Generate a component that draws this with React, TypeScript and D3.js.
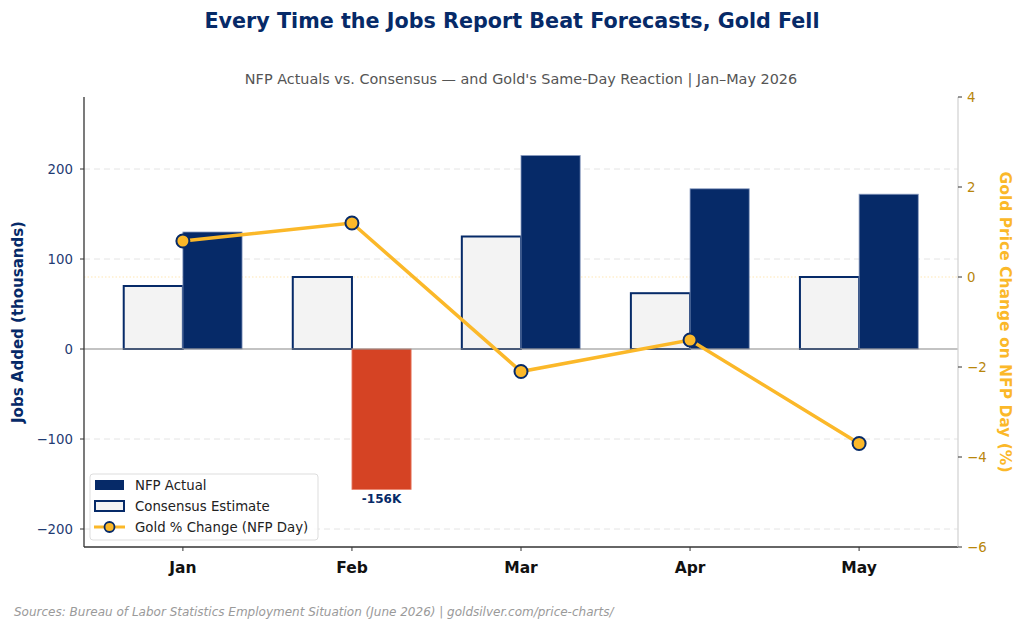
import React from "react";
import * as d3 from "d3";

const months = ["Jan", "Feb", "Mar", "Apr", "May"];
const nfpActual = [130, -156, 215, 178, 172];
const consensus = [70, 80, 125, 62, 80];
const goldChange = [0.8, 1.2, -2.1, -1.4, -3.7];
const leftTicks = [-200, -100, 0, 100, 200];
const rightTicks = [-6, -4, -2, 0, 2, 4];

const NAVY = "#062a68";
const GOLD = "#fbb829";
const RED = "#d54324";
const FONT = "DejaVu Sans, sans-serif";

const margin = { left: 84, right: 66, top: 97, bottom: 84 };
const W = 1024;
const H = 631;

const App = () => {
  const innerW = W - margin.left - margin.right;
  const innerH = H - margin.top - margin.bottom;
  const barW = 0.35;

  // scales
  const x = d3.scaleLinear().domain([-0.585, 4.585]).range([0, innerW]);
  const yLeft = d3.scaleLinear().domain([-220, 280]).range([innerH, 0]);
  const yRight = d3.scaleLinear().domain([-6, 4]).range([innerH, 0]);
  const bw = x(barW) - x(0);

  const line = d3
    .line<number>()
    .x((d, i) => x(i))
    .y(d => yRight(d));

  return (
    <svg
      width={W}
      height={H}
      style={{ position: "absolute", left: 0, top: 0, background: "#fff" }}
      fontFamily={FONT}
    >
      <text x={512} y={27.5} textAnchor="middle" fontSize={20.7} fontWeight="bold" fill={NAVY}>
        Every Time the Jobs Report Beat Forecasts, Gold Fell
      </text>
      <text x={margin.left + innerW / 2} y={84} textAnchor="middle" fontSize={14.4} fill="#555">
        NFP Actuals vs. Consensus — and Gold's Same-Day Reaction | Jan–May 2026
      </text>

      <g transform={`translate(${margin.left},${margin.top})`}>
        {/* grid */}
        {leftTicks
          .filter(t => t !== 0)
          .map(t => (
            <line
              key={"g" + t}
              x1={0}
              x2={innerW}
              y1={yLeft(t)}
              y2={yLeft(t)}
              stroke="#e4e4e4"
              strokeDasharray="6,4"
            />
          ))}
        <line x1={0} x2={innerW} y1={yRight(0)} y2={yRight(0)} stroke={GOLD} strokeOpacity={0.35} strokeDasharray="1.5,2" />

        {/* bars */}
        {consensus.map((v, i) => (
          <rect
            key={"c" + i}
            x={x(i - barW)}
            y={yLeft(Math.max(0, v))}
            width={bw}
            height={Math.abs(yLeft(v) - yLeft(0))}
            fill="#f3f3f3"
            stroke={NAVY}
            strokeWidth={2}
          />
        ))}
        {nfpActual.map((v, i) => (
          <rect
            key={"a" + i}
            x={x(i)}
            y={yLeft(Math.max(0, v))}
            width={bw}
            height={Math.abs(yLeft(v) - yLeft(0))}
            fill={v < 0 ? RED : NAVY}
            stroke={v < 0 ? "#e8806a" : "#8a9cc0"}
            strokeWidth={0.8}
          />
        ))}
        {nfpActual.map((v, i) =>
          v < 0 ? (
            <text
              key={"l" + i}
              x={x(i) + bw / 2}
              y={yLeft(v) + 14}
              textAnchor="middle"
              fontSize={12}
              fontWeight="bold"
              fill={NAVY}
            >
              {v}K
            </text>
          ) : null
        )}
        <line x1={0} x2={innerW} y1={yLeft(0)} y2={yLeft(0)} stroke="#888" strokeWidth={1.2} />

        {/* gold line */}
        <path d={line(goldChange) || ""} fill="none" stroke={GOLD} strokeWidth={3.5} />
        {goldChange.map((v, i) => (
          <circle key={"p" + i} cx={x(i)} cy={yRight(v)} r={6.5} fill={GOLD} stroke={NAVY} strokeWidth={2} />
        ))}

        {/* spines */}
        <line x1={0} x2={0} y1={0} y2={innerH} stroke="#333" strokeWidth={1.3} />
        <line x1={0} x2={innerW} y1={innerH} y2={innerH} stroke="#333" strokeWidth={1.3} />
        <line x1={innerW} x2={innerW} y1={0} y2={innerH} stroke="#d4d4d4" strokeWidth={1.3} />

        {/* left axis */}
        {leftTicks.map(t => (
          <g key={"lt" + t} transform={`translate(0,${yLeft(t)})`}>
            <line x1={-4} x2={0} stroke="#333" />
            <text x={-11} dy="0.35em" textAnchor="end" fontSize={13.3} fill="#1f3b73">
              {t < 0 ? "\u2212" + Math.abs(t) : t}
            </text>
          </g>
        ))}
        {/* right axis */}
        {rightTicks.map(t => (
          <g key={"rt" + t} transform={`translate(${innerW},${yRight(t)})`}>
            <line x1={0} x2={4} stroke="#333" />
            <text x={9} dy="0.35em" textAnchor="start" fontSize={13.3} fill="#b8860b">
              {t < 0 ? "\u2212" + Math.abs(t) : t}
            </text>
          </g>
        ))}
        {/* x axis */}
        {months.map((m, i) => (
          <g key={m} transform={`translate(${x(i)},${innerH})`}>
            <line y1={0} y2={4} stroke="#333" />
            <text y={25.5} textAnchor="middle" fontSize={15.5} fontWeight="bold" fill="#111">
              {m}
            </text>
          </g>
        ))}

        {/* legend */}
        <g transform="translate(6,377)">
          <rect width={228} height={66} rx={3} fill="#fff" fillOpacity={0.85} stroke="#ddd" />
          <rect x={5} y={6} width={29} height={10} fill={NAVY} />
          <text x={45} y={16} fontSize={13.3} fill="#222">NFP Actual</text>
          <rect x={5} y={27} width={29} height={10} fill="#f3f3f3" stroke={NAVY} strokeWidth={2} />
          <text x={45} y={37} fontSize={13.3} fill="#222">Consensus Estimate</text>
          <line x1={4} x2={35} y1={53} y2={53} stroke={GOLD} strokeWidth={3} />
          <circle cx={19.5} cy={53} r={5} fill={GOLD} stroke={NAVY} strokeWidth={1.8} />
          <text x={45} y={58} fontSize={13.3} fill="#222">Gold % Change (NFP Day)</text>
        </g>
      </g>

      <text
        transform={`translate(23,${margin.top + innerH / 2}) rotate(-90)`}
        textAnchor="middle"
        fontSize={15}
        fontWeight="bold"
        fill={NAVY}
      >
        Jobs Added (thousands)
      </text>
      <text
        transform={`translate(1000,${margin.top + innerH / 2}) rotate(90)`}
        textAnchor="middle"
        fontSize={15.5}
        fontWeight="bold"
        fill={GOLD}
      >
        Gold Price Change on NFP Day (%)
      </text>

      <text x={14} y={616} fontSize={12} fontStyle="italic" fill="#9a9a9a">
        Sources: Bureau of Labor Statistics Employment Situation (June 2026) | goldsilver.com/price-charts/
      </text>
    </svg>
  );
};

export default App;
